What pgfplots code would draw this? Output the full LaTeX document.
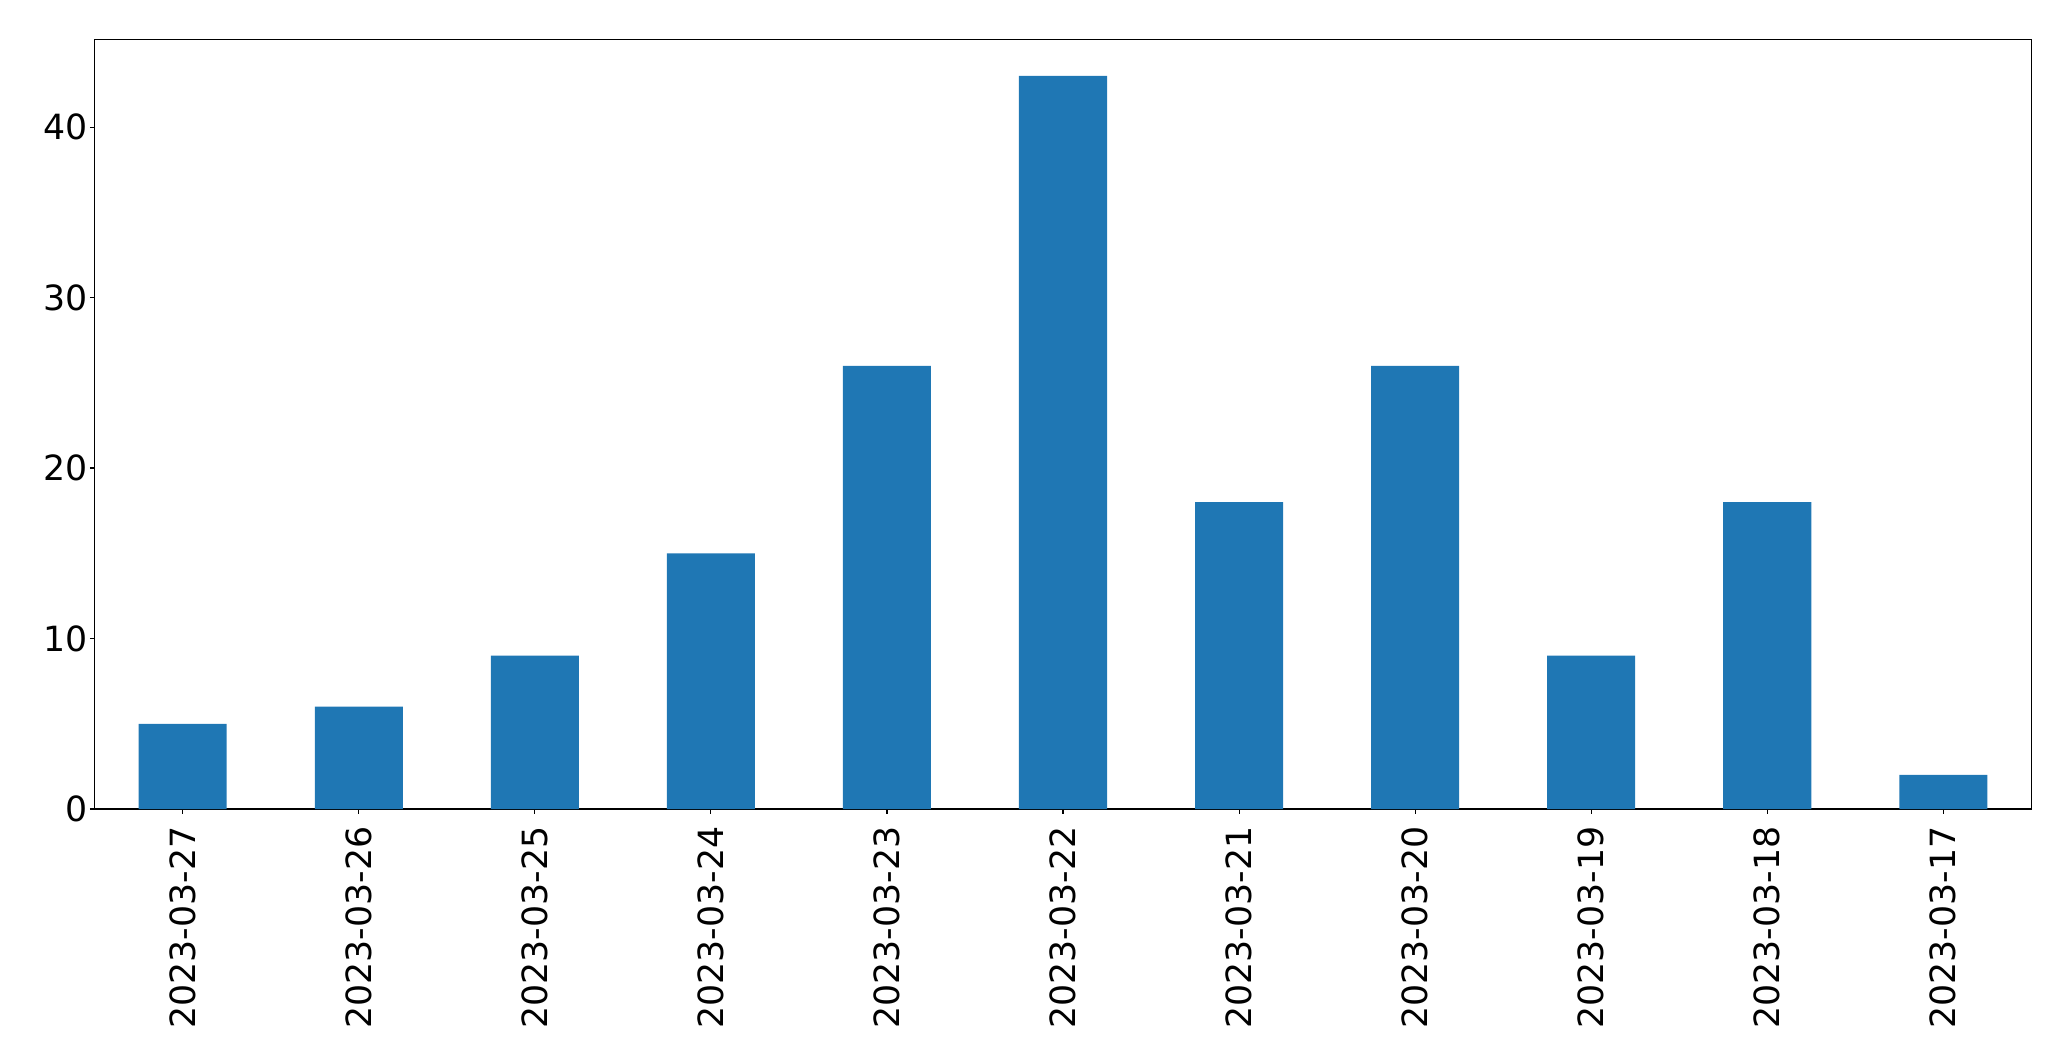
\documentclass[border=0pt]{standalone}
\usepackage{pgfplots}
\pgfplotsset{compat=1.18}
\usepackage{fontspec}
\setmainfont{DejaVu Sans}
\definecolor{mplblue}{HTML}{1F77B4}
\begin{document}
\begin{tikzpicture}
\begin{axis}[
  name=ax,
  scale only axis,
  width=968.3pt, height=384.85pt,
  xmin=-0.5, xmax=10.5,
  ymin=0, ymax=45.15,
  xtick={0,1,2,3,4,5,6,7,8,9,10},
  xticklabels={2023-03-27,2023-03-26,2023-03-25,2023-03-24,2023-03-23,2023-03-22,2023-03-21,2023-03-20,2023-03-19,2023-03-18,2023-03-17},
  ytick={0,10,20,30,40},
  tick align=outside,
  major tick length=2.4pt,
  xtick pos=bottom, ytick pos=left,
  axis line style={line width=0.55pt},
  every tick/.style={line width=0.55pt, black},
  tick label style={font=\fontsize{17.36}{21}\selectfont, inner sep=0pt},
  /pgf/number format/assume math mode=true,
  xticklabel style={rotate=90, anchor=east},
  yticklabel style={anchor=east},
  xticklabel shift=6.2pt,
  yticklabel shift=0.9pt,
]
\addplot[ybar, bar width=0.5, fill=mplblue, draw=none] coordinates {
(0,5) (1,6) (2,9) (3,15) (4,26) (5,43) (6,18) (7,26) (8,9) (9,18) (10,2)
};
\end{axis}
\path ([xshift=-47.35pt,yshift=-126pt]ax.south west) rectangle ([xshift=19.85pt,yshift=19.65pt]ax.north east);
\end{tikzpicture}
\end{document}
